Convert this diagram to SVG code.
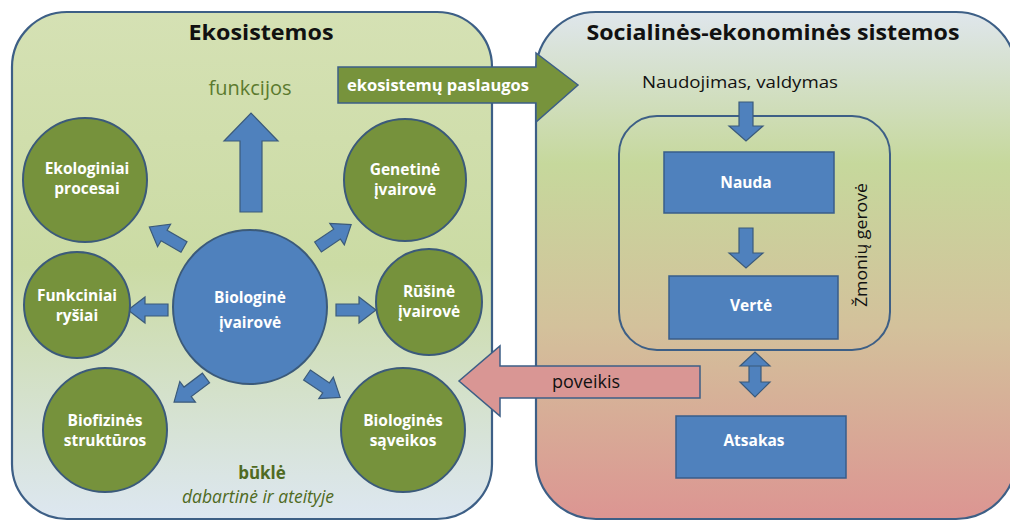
<svg xmlns="http://www.w3.org/2000/svg" xmlns:xlink="http://www.w3.org/1999/xlink" width="1010" height="522" viewBox="0 0 1010 522">
<style>
.panel{stroke:#3d5f86;stroke-width:2.2}
.gc{fill:#76923c;stroke:#3b5a7a;stroke-width:2}
.bc{fill:#4f81bd;stroke:#3b5a7a;stroke-width:2}
.ba{fill:#4f81bd;stroke:#3b5a7a;stroke-width:1.2}
.box{fill:#4f81bd;stroke:#385d8a;stroke-width:1.5}
.t{font-family:"Open Sans","Liberation Sans",sans-serif;text-anchor:middle}
.wt{fill:#ffffff;font-weight:bold;font-size:15.5px}
.title{font-weight:bold;font-size:21px;fill:#111}
</style>
<defs>
<linearGradient id="gL" x1="0" y1="0" x2="0" y2="1">
<stop offset="0" stop-color="#d5e1b4"/>
<stop offset="0.5" stop-color="#cbdba4"/>
<stop offset="1" stop-color="#dde7f1"/>
</linearGradient>
<linearGradient id="gR" x1="0" y1="0" x2="0" y2="1">
<stop offset="0" stop-color="#dfe6ec"/>
<stop offset="0.3" stop-color="#c6d89c"/>
<stop offset="0.62" stop-color="#d3c19b"/>
<stop offset="1" stop-color="#dc9592"/>
</linearGradient>
<path id="sa" d="M0,-6 L23,-6 L23,-13 L40,0 L23,13 L23,6 L0,6 Z"/>
</defs>

<g id="panel-ekosistemos">
<rect class="panel" x="12" y="12" width="480" height="507" rx="55" fill="url(#gL)"/>
<text class="t title" x="261" y="40" textLength="145" lengthAdjust="spacingAndGlyphs">Ekosistemos</text>
<text class="t" x="250" y="95" font-size="20" fill="#5b7a2e">funkcijos</text>
<text class="t" x="262" y="479" font-size="17" font-weight="bold" fill="#4f6a22">būklė</text>
<text class="t" x="258" y="503" font-size="17.5" font-style="italic" fill="#4f6a22">dabartinė ir ateityje</text>
</g>

<g id="panel-socialines">
<rect class="panel" x="536" y="12" width="480" height="507" rx="60" fill="url(#gR)"/>
<text class="t title" x="773" y="40" textLength="373" lengthAdjust="spacingAndGlyphs">Socialinės-ekonominės sistemos</text>
<text class="t" x="740" y="88" font-size="17" fill="#111" textLength="196" lengthAdjust="spacingAndGlyphs">Naudojimas, valdymas</text>
</g>

<g id="zmoniu-gerove">
<rect x="619" y="116" width="271" height="234" rx="38" fill="none" stroke="#3d5f86" stroke-width="2"/>
<text class="t" transform="translate(867,245) rotate(-90)" font-size="16" fill="#111" textLength="124" lengthAdjust="spacingAndGlyphs">Žmonių gerovė</text>
</g>

<g id="connectors">
<polygon class="ba" points="240,212 262,212 262,141 278,141 251,113 224,141 240,141"/>
<use href="#sa" class="ba" transform="translate(184,247) rotate(210)"/>
<use href="#sa" class="ba" transform="translate(318,247) rotate(-34)"/>
<use href="#sa" class="ba" transform="translate(168,310) rotate(180)"/>
<use href="#sa" class="ba" transform="translate(336,310)"/>
<use href="#sa" class="ba" transform="translate(206,378) rotate(143)"/>
<use href="#sa" class="ba" transform="translate(307,375) rotate(34)"/>
<polygon class="ba" points="739,102 753,102 753,126 763,126 746,141 729,126 739,126"/>
<polygon class="ba" points="739,228 753,228 753,253 763,253 746,268 729,253 739,253"/>
<polygon class="ba" points="749,366 761,366 761,382 770,382 755,397 740,382 749,382 749,366 740,366 755,352 770,366 761,366"/>
</g>

<g id="node-ekosistemu-paslaugos">
<polygon points="338,67 536,67 536,53 578,85 536,122 536,103 338,103" fill="#77933c" stroke="#3d5f86" stroke-width="1.5"/>
<text class="t" x="438" y="91" font-size="16.5" font-weight="bold" fill="#fff">ekosistemų paslaugos</text>
</g>

<g id="node-poveikis">
<polygon points="700,366 700,398 500,398 500,416 459,381 500,346 500,366" fill="#d99694" stroke="#3d5f86" stroke-width="1.5"/>
<text class="t" x="586" y="388" font-size="18" fill="#111">poveikis</text>
</g>

<g id="node-ekologiniai"><circle class="gc" cx="85" cy="180" r="62"/><text class="t wt" x="87" y="174">Ekologiniai</text><text class="t wt" x="87" y="194">procesai</text></g>
<g id="node-genetine"><circle class="gc" cx="405" cy="180" r="61"/><text class="t wt" x="405" y="175">Genetinė</text><text class="t wt" x="405" y="195">įvairovė</text></g>
<g id="node-funkciniai"><circle class="gc" cx="77" cy="305" r="53"/><text class="t wt" x="77" y="301">Funkciniai</text><text class="t wt" x="77" y="321">ryšiai</text></g>
<g id="node-rusine"><circle class="gc" cx="429" cy="302" r="53"/><text class="t wt" x="429" y="297">Rūšinė</text><text class="t wt" x="429" y="317">įvairovė</text></g>
<g id="node-biofizines"><circle class="gc" cx="105" cy="430" r="62"/><text class="t wt" x="105" y="426">Biofizinės</text><text class="t wt" x="105" y="446">struktūros</text></g>
<g id="node-saveikos"><circle class="gc" cx="403" cy="430" r="62"/><text class="t wt" x="403" y="426">Biologinės</text><text class="t wt" x="403" y="446">sąveikos</text></g>
<g id="node-biologine"><circle class="bc" cx="250" cy="307" r="77"/><text class="t wt" x="250" y="303" font-size="19.5">Biologinė</text><text class="t wt" x="250" y="328" font-size="19.5">įvairovė</text></g>

<g id="node-nauda"><rect class="box" x="664" y="152" width="170" height="61"/><text class="t wt" x="746" y="188">Nauda</text></g>
<g id="node-verte"><rect class="box" x="669" y="276" width="169" height="63"/><text class="t wt" x="751" y="311">Vertė</text></g>
<g id="node-atsakas"><rect class="box" x="676" y="416" width="170" height="62"/><text class="t wt" x="754" y="446">Atsakas</text></g>
</svg>
